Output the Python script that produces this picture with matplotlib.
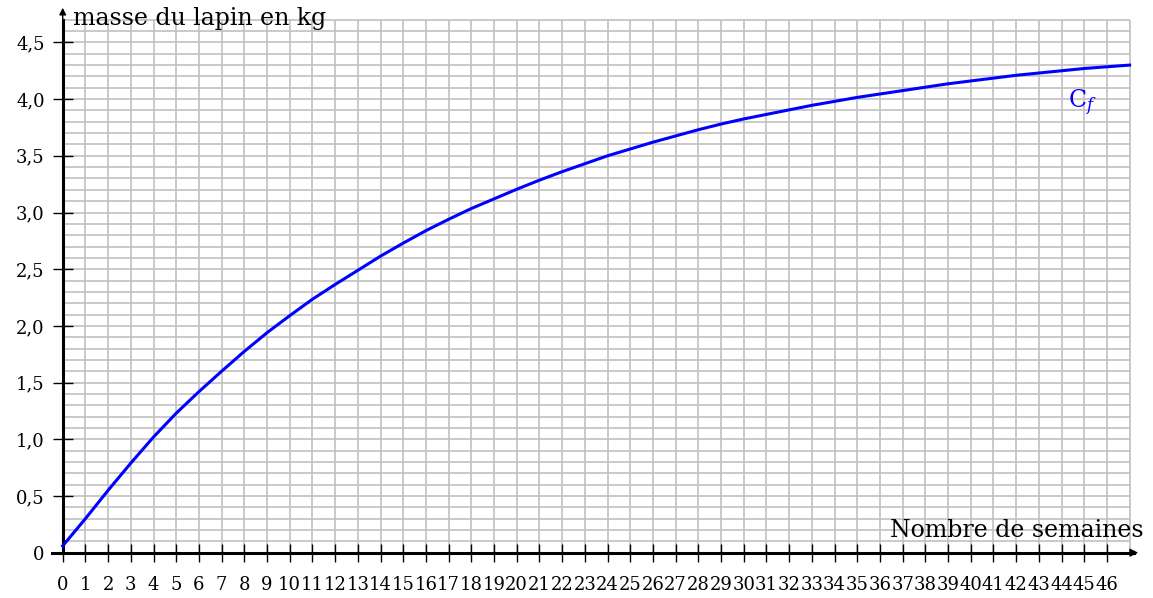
import numpy as np
import matplotlib
matplotlib.use('Agg')
import matplotlib.pyplot as plt
from matplotlib.ticker import FuncFormatter

# semaines et masse
semaines = list(range(0, 48))
masse = [0.06, 0.30, 0.55, 0.79, 1.02, 1.23, 1.42, 1.60, 1.775, 1.94,
         2.09, 2.235, 2.365, 2.49, 2.615, 2.73, 2.84, 2.94, 3.035, 3.12,
         3.205, 3.285, 3.36, 3.43, 3.50, 3.56, 3.62, 3.675, 3.73, 3.78,
         3.825, 3.865, 3.905, 3.945, 3.98, 4.015, 4.045, 4.075, 4.105, 4.135,
         4.16, 4.185, 4.21, 4.23, 4.25, 4.27, 4.285, 4.30]
x_ticks = list(range(0, 47))
y_ticks = [0, 0.5, 1.0, 1.5, 2.0, 2.5, 3.0, 3.5, 4.0, 4.5]

plt.rcParams['font.family'] = ['DejaVu Serif']
plt.rcParams['mathtext.fontset'] = 'dejavuserif'

fig = plt.figure(figsize=(11.53, 5.98), dpi=100)
ax = fig.add_axes([0, 0, 1, 1])
ax.set_xlim(-2.762, 48.03)
ax.set_ylim(-0.3995, 4.874)

# quadrillage
ax.vlines(np.arange(0, 48), 0, 4.7, colors='#c0c0c0', lw=1.2, zorder=1)
ax.hlines(np.arange(0, 48) / 10, 0, 47, colors='#c0c0c0', lw=1.2, zorder=1)

# axes
for s in ['top', 'right']:
    ax.spines[s].set_visible(False)
ax.spines['left'].set_position(('data', 0))
ax.spines['bottom'].set_position(('data', 0))
ax.spines['left'].set_bounds(0, 4.7)
ax.spines['bottom'].set_bounds(-0.47, 47.2)
ax.spines['left'].set_linewidth(2.2)
ax.spines['bottom'].set_linewidth(2.2)
ax.spines['left'].set_zorder(3)
ax.spines['bottom'].set_zorder(3)
ax.annotate('', xy=(47.5, 0), xytext=(46.9, 0),
            arrowprops=dict(arrowstyle='-|>', color='black', lw=1, mutation_scale=12))
ax.annotate('', xy=(0, 4.83), xytext=(0, 4.68),
            arrowprops=dict(arrowstyle='-|>', color='black', lw=1, mutation_scale=10))

ax.set_xticks(x_ticks)
ax.set_yticks(y_ticks)
ax.yaxis.set_major_formatter(FuncFormatter(
    lambda v, p: '0' if v == 0 else ('%.1f' % v).replace('.', ',')))
ax.tick_params(axis='x', direction='inout', length=13, width=1, pad=10, labelsize=13)
ax.tick_params(axis='y', direction='inout', length=14, width=1, pad=6, labelsize=13)

# courbe
ax.plot(semaines, masse, color='#0000ff', lw=2.2, zorder=4)

ax.text(0.45, 4.71, 'masse du lapin en kg', fontsize=17, va='center', ha='left')
ax.text(36.45, 0.2, 'Nombre de semaines', fontsize=17, va='center', ha='left')
ax.text(44.9, 3.97, r'$\mathrm{C}_f$', color='#0000ff', fontsize=17, va='center', ha='center')

fig.savefig('out.png', dpi=100)
